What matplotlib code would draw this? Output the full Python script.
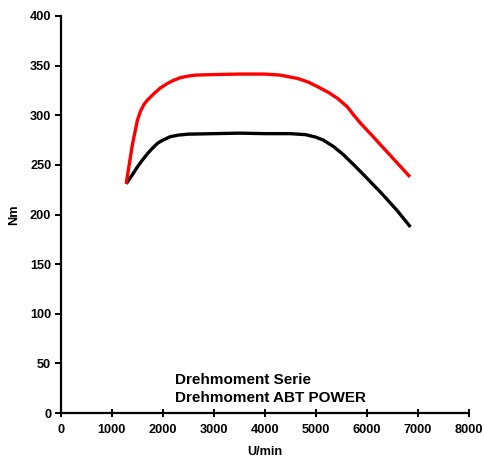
import matplotlib.pyplot as plt

plt.rcParams['font.family'] = ['Liberation Sans', 'DejaVu Sans']
plt.rcParams['font.weight'] = 'bold'

# Drehmoment Serie
rpm_serie = [1280, 1400, 1500, 1600, 1700, 1800, 1900, 2000, 2150, 2300, 2500, 3000, 3500,
             4000, 4500, 4800, 5000, 5150, 5350, 5550, 5750, 6000, 6300, 6600, 6860]
nm_serie = [231, 240, 248, 255, 261.5, 267, 272, 275, 278.5, 280, 281, 281.5, 282,
            281.5, 281.5, 280.5, 278, 275, 268.5, 260, 250, 237, 221, 204, 187.5]

# Drehmoment ABT POWER
rpm_abt = [1280, 1400, 1500, 1560, 1630, 1700, 1830, 1950, 2090, 2200, 2350, 2500, 2650,
           3000, 3500, 4000, 4300, 4650, 4850, 5050, 5250, 5430, 5620, 5750, 5880, 6100,
           6340, 6600, 6850]
nm_abt = [231, 270, 295, 304, 311, 315.5, 322, 327.5, 332, 335, 338, 339.5, 340.5,
          341, 341.5, 341.5, 340.5, 337, 333.5, 328.5, 323, 317, 308.5, 300, 292, 280,
          266.5, 252, 238]

x_ticks = [0, 1000, 2000, 3000, 4000, 5000, 6000, 7000, 8000]
y_ticks = [0, 50, 100, 150, 200, 250, 300, 350, 400]

fig = plt.figure(figsize=(4.84, 4.57), dpi=100)
ax = fig.add_axes([0.126, 0.096, 0.842, 0.869])

ax.plot(rpm_serie, nm_serie, color='black', linewidth=2.4, label='Drehmoment Serie',
        solid_capstyle='butt', solid_joinstyle='round')
ax.plot(rpm_abt, nm_abt, color='#ff0000', linewidth=2.4, label='Drehmoment ABT POWER',
        solid_capstyle='butt', solid_joinstyle='round')

ax.set_xlim(0, 8000)
ax.set_ylim(0, 400)
ax.set_xticks(x_ticks)
ax.set_yticks(y_ticks)

for s in ['top', 'right']:
    ax.spines[s].set_visible(False)
for s in ['left', 'bottom']:
    ax.spines[s].set_linewidth(1.6)

ax.tick_params(axis='x', direction='inout', length=6, width=1.4, labelsize=9.2, pad=5)
ax.tick_params(axis='y', direction='out', length=4, width=1.4, labelsize=9.2, pad=3)

ax.set_xlabel('U/min', fontsize=9.2, fontweight='bold', labelpad=7)
ax.set_ylabel('Nm', fontsize=9.2, fontweight='bold', labelpad=7)

leg = ax.legend(loc='upper left', bbox_to_anchor=(0.28, 0.10), frameon=False,
                handlelength=0, handletextpad=0, borderpad=0, borderaxespad=0,
                labelspacing=0.22, prop={'size': 11, 'weight': 'bold'})
for h in leg.legend_handles:
    h.set_visible(False)

fig.savefig('out.png', dpi=100)
